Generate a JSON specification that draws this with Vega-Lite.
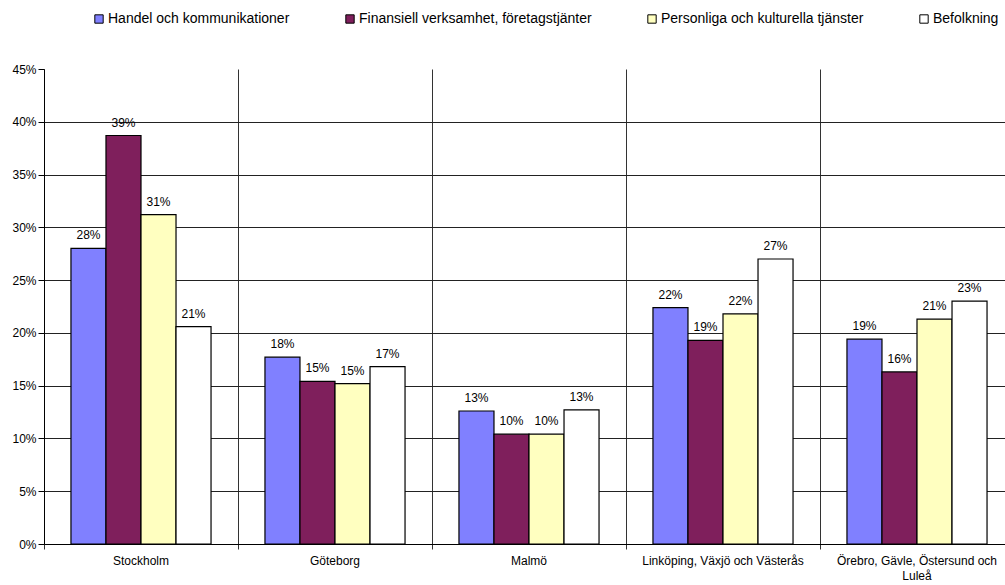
{
  "$schema": "https://vega.github.io/schema/vega-lite/v6.json",
  "autosize": "none",
  "width": 970,
  "height": 475,
  "padding": {"left": 44, "top": 69, "right": 0, "bottom": 41},
  "background": "white",
  "config": {
    "font": "Liberation Sans",
    "view": {"stroke": null},
    "axis": {"labelFont": "Liberation Sans", "labelColor": "black", "labelFontSize": 12}
  },
  "data": {
    "values": [
      {"region": "Stockholm", "series": "Handel och kommunikationer", "value": 0.280},
      {"region": "Stockholm", "series": "Finansiell verksamhet, företagstjänter", "value": 0.387},
      {"region": "Stockholm", "series": "Personliga och kulturella tjänster", "value": 0.312},
      {"region": "Stockholm", "series": "Befolkning", "value": 0.206},
      {"region": "Göteborg", "series": "Handel och kommunikationer", "value": 0.177},
      {"region": "Göteborg", "series": "Finansiell verksamhet, företagstjänter", "value": 0.154},
      {"region": "Göteborg", "series": "Personliga och kulturella tjänster", "value": 0.152},
      {"region": "Göteborg", "series": "Befolkning", "value": 0.168},
      {"region": "Malmö", "series": "Handel och kommunikationer", "value": 0.126},
      {"region": "Malmö", "series": "Finansiell verksamhet, företagstjänter", "value": 0.104},
      {"region": "Malmö", "series": "Personliga och kulturella tjänster", "value": 0.104},
      {"region": "Malmö", "series": "Befolkning", "value": 0.127},
      {"region": "Linköping, Växjö och Västerås", "series": "Handel och kommunikationer", "value": 0.224},
      {"region": "Linköping, Växjö och Västerås", "series": "Finansiell verksamhet, företagstjänter", "value": 0.193},
      {"region": "Linköping, Växjö och Västerås", "series": "Personliga och kulturella tjänster", "value": 0.218},
      {"region": "Linköping, Växjö och Västerås", "series": "Befolkning", "value": 0.270},
      {"region": "Örebro, Gävle, Östersund och Luleå", "series": "Handel och kommunikationer", "value": 0.194},
      {"region": "Örebro, Gävle, Östersund och Luleå", "series": "Finansiell verksamhet, företagstjänter", "value": 0.163},
      {"region": "Örebro, Gävle, Östersund och Luleå", "series": "Personliga och kulturella tjänster", "value": 0.213},
      {"region": "Örebro, Gävle, Östersund och Luleå", "series": "Befolkning", "value": 0.230}
    ]
  },
  "encoding": {
    "x": {
      "field": "region",
      "type": "nominal",
      "sort": null,
      "title": null,
      "scale": {"paddingInner": 0, "paddingOuter": 0},
      "axis": {
        "labelAngle": 0,
        "labelPadding": 6,
        "labelFontSize": 12,
        "bandPosition": 0,
        "grid": true,
        "gridColor": "#333333",
        "gridWidth": 1,
        "ticks": true,
        "tickSize": 5,
        "tickColor": "#333333",
        "domainColor": "black",
        "labelExpr": "datum.label == 'Örebro, Gävle, Östersund och Luleå' ? ['Örebro, Gävle, Östersund och', 'Luleå'] : datum.label",
        "labelLineHeight": 15
      }
    },
    "xOffset": {
      "field": "series",
      "type": "nominal",
      "sort": ["Handel och kommunikationer", "Finansiell verksamhet, företagstjänter", "Personliga och kulturella tjänster", "Befolkning"],
      "scale": {"paddingInner": 0, "paddingOuter": 0.77}
    },
    "y": {
      "field": "value",
      "type": "quantitative",
      "title": null,
      "scale": {"domain": [0, 0.45], "nice": false},
      "axis": {
        "values": [0, 0.05, 0.1, 0.15, 0.2, 0.25, 0.3, 0.35, 0.4, 0.45],
        "format": ".0%",
        "grid": true,
        "gridColor": "#222222",
        "gridWidth": 1,
        "gridOpacity": {"expr": "datum.value > 0.44 ? 0 : 1"},
        "tickSize": 6,
        "tickColor": "black",
        "domainColor": "black",
        "labelPadding": 2
      }
    }
  },
  "layer": [
    {
      "mark": {"type": "bar", "stroke": "black", "strokeWidth": 1.2},
      "encoding": {
        "color": {
          "field": "series",
          "type": "nominal",
          "sort": ["Handel och kommunikationer", "Finansiell verksamhet, företagstjänter", "Personliga och kulturella tjänster", "Befolkning"],
          "scale": {
            "domain": ["Handel och kommunikationer", "Finansiell verksamhet, företagstjänter", "Personliga och kulturella tjänster", "Befolkning"],
            "range": ["#8080FF", "#7F1F5C", "#FFFFC0", "#FFFFFF"]
          },
          "legend": {
            "title": null,
            "orient": "none",
            "legendX": 48,
            "legendY": -57,
            "direction": "horizontal",
            "symbolType": "square",
            "symbolSize": 70,
            "symbolStrokeColor": "black",
            "symbolStrokeWidth": 1,
            "symbolOpacity": 1,
            "labelFontSize": 14,
            "labelColor": "black",
            "labelOffset": 2,
            "columnPadding": 53,
            "labelLimit": 400
          }
        }
      }
    },
    {
      "mark": {"type": "text", "baseline": "bottom", "dy": -6, "fontSize": 12, "color": "black"},
      "encoding": {
        "text": {"field": "value", "type": "quantitative", "format": ".0%"}
      }
    }
  ]
}
